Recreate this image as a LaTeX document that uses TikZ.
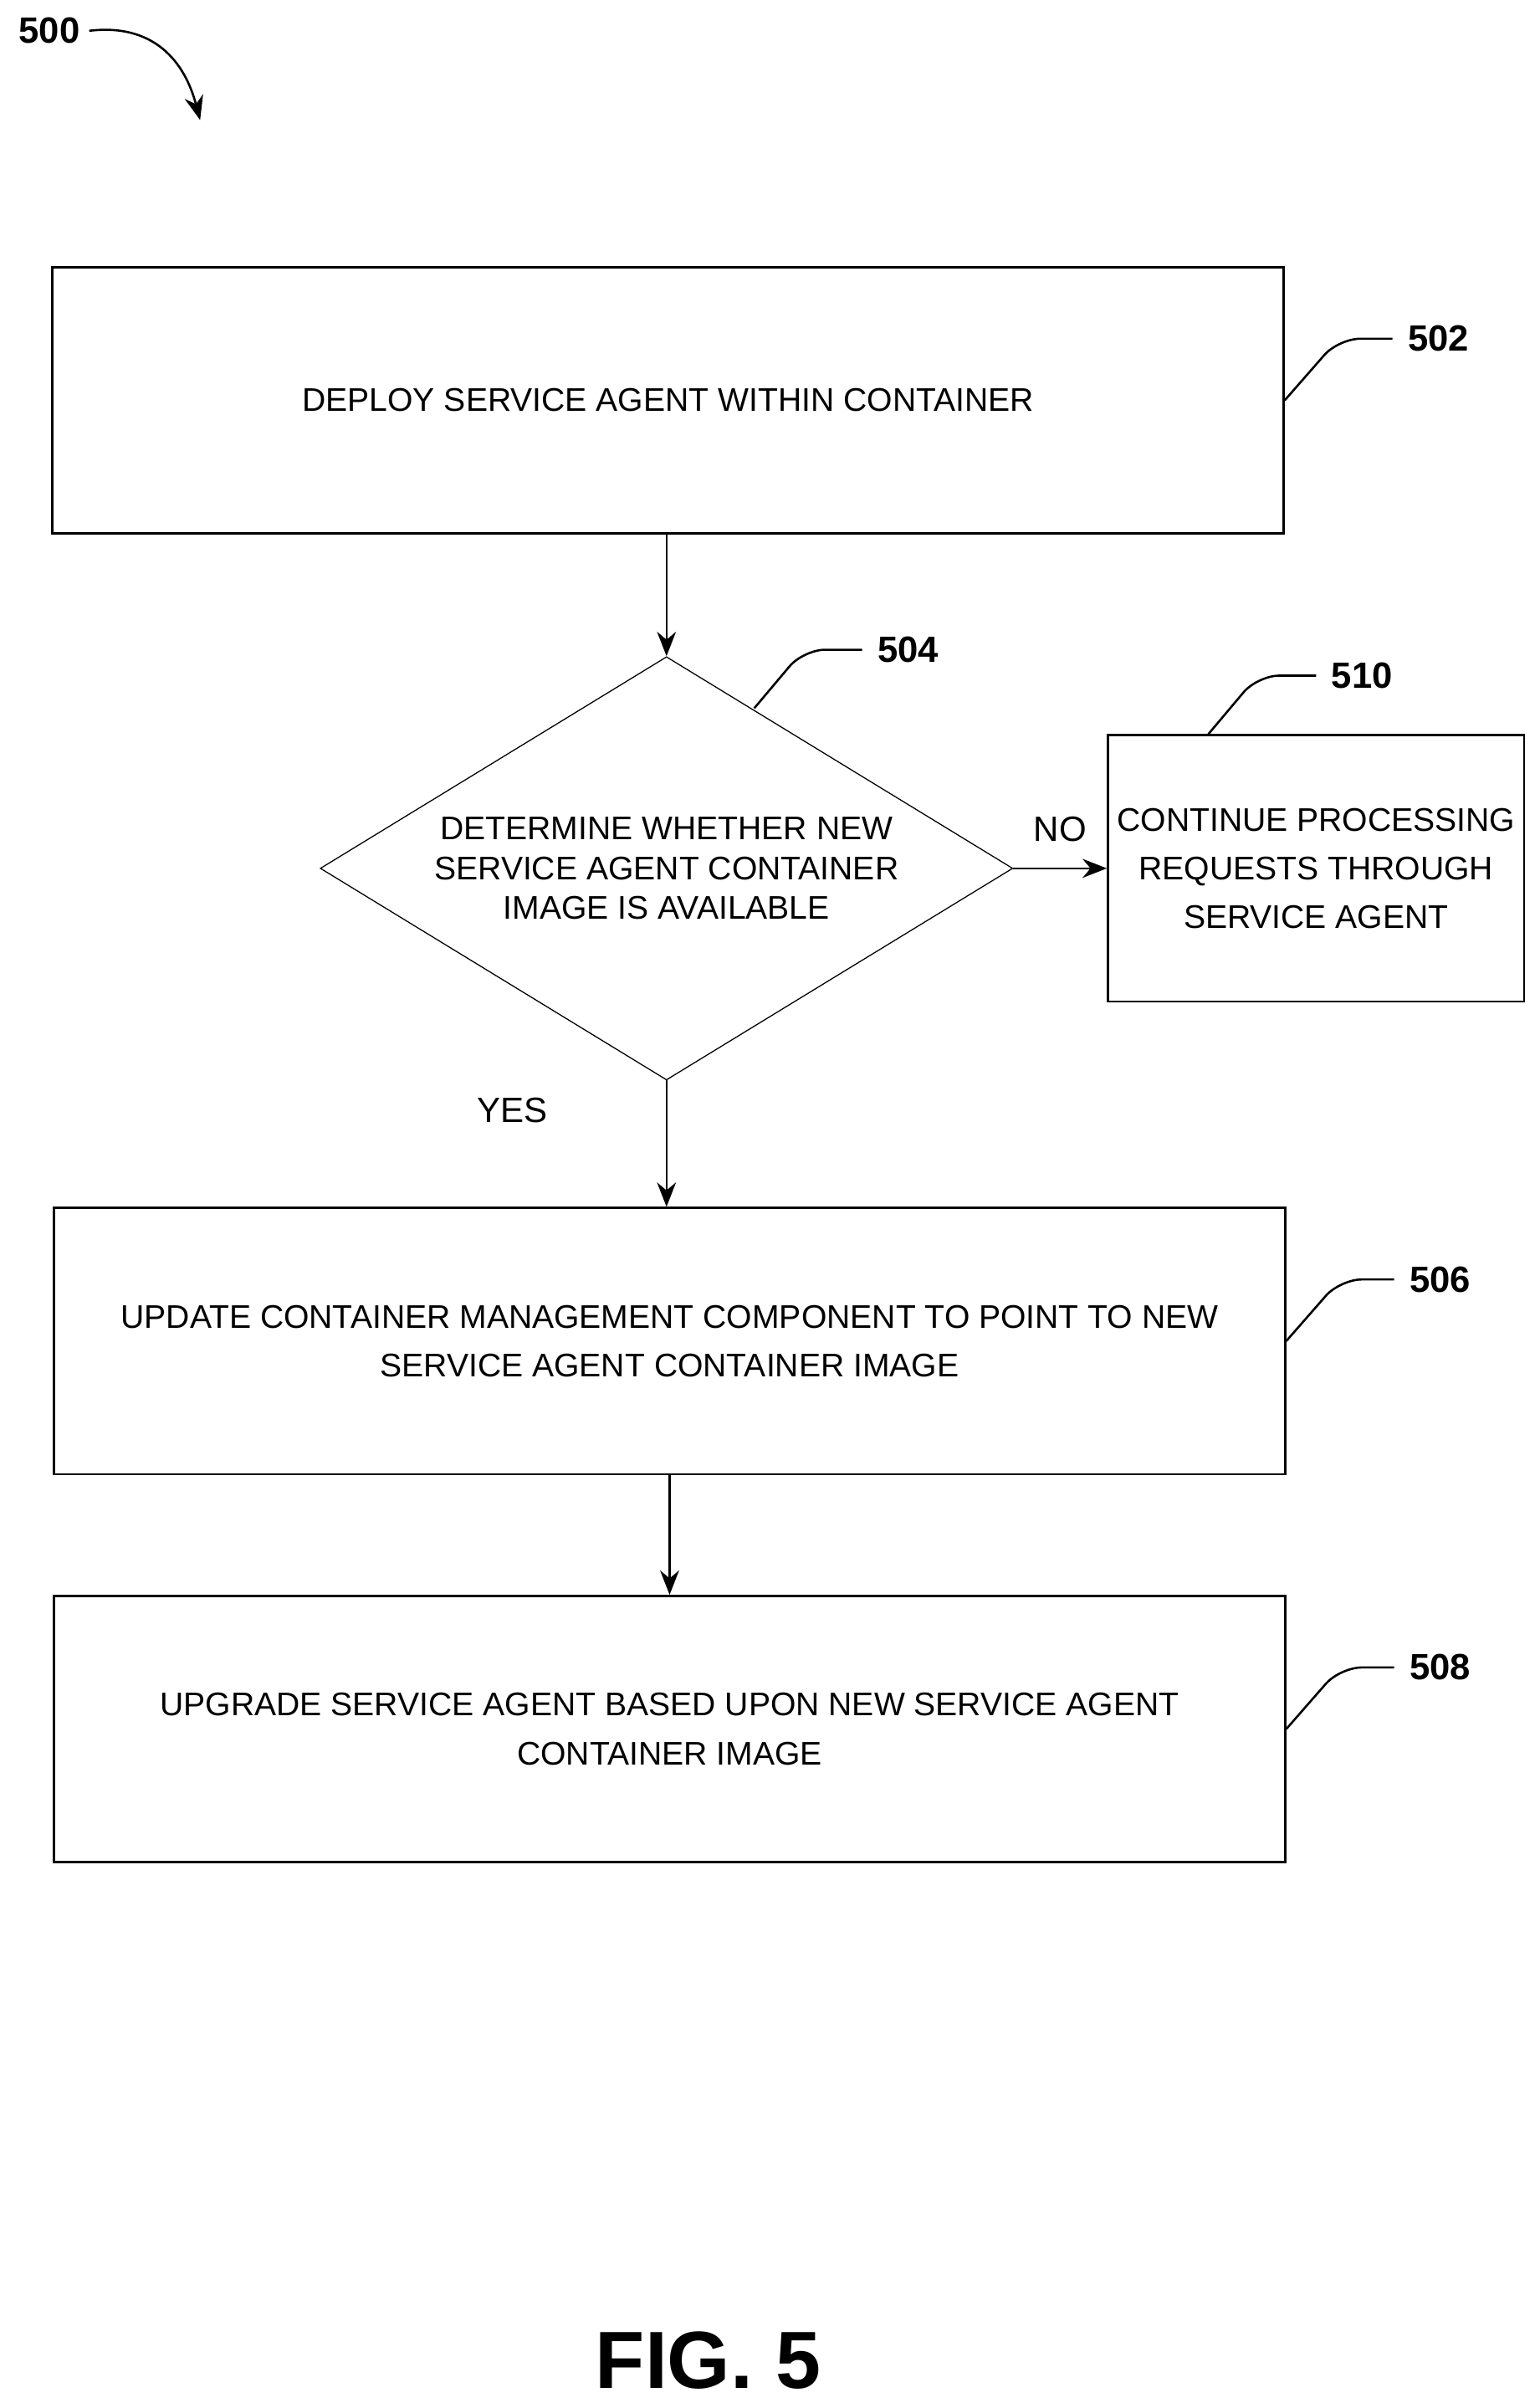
\documentclass[tikz,border=0pt]{standalone}
\usepackage{fontspec}
\setmainfont{Liberation Sans}
\usetikzlibrary{shapes.geometric,arrows.meta}

\begin{document}
\begin{tikzpicture}[x=0.02cm, y=-0.02cm,
    stepbox/.style={rectangle, draw, thick, minimum width=16cm, minimum height=3.46cm, align=center, font=\fontsize{12.1}{18}\selectfont},
    flow/.style={-{Stealth[length=9pt,width=7pt]}, thick},
    refnum/.style={font=\fontsize{13.5}{16}\selectfont\bfseries},
    leader/.style={thick, rounded corners=8pt}]
    \useasboundingbox (0,0) rectangle (1000,1564);

    \node at (434, 260) [stepbox] (b502) {DEPLOY SERVICE AGENT WITHIN CONTAINER};
    \node at (433, 564) [diamond, draw, thin, inner sep=0pt, aspect=1.64, minimum width=9cm, minimum height=5.5cm,
        align=center, font=\fontsize{12.1}{14.7}\selectfont] (d504)
        {DETERMINE WHETHER NEW\\SERVICE AGENT CONTAINER\\IMAGE IS AVAILABLE};
    \node at (855, 564) [stepbox, minimum width=5.4cm] (b510)
        {CONTINUE PROCESSING\\REQUESTS THROUGH\\SERVICE AGENT};
    \node at (435, 871) [stepbox] (b506)
        {UPDATE CONTAINER MANAGEMENT COMPONENT TO POINT TO NEW\\SERVICE AGENT CONTAINER IMAGE};
    \node at (435, 1123) [stepbox] (b508)
        {UPGRADE SERVICE AGENT BASED UPON NEW SERVICE AGENT\\CONTAINER IMAGE};

    %flow between steps
    \draw [flow] (b502.south -| d504.north) -- (d504.north);
    \draw [flow] (d504.east) -- (b510.west) node[midway, above=6pt, font=\fontsize{13}{16}\selectfont] {NO};
    \draw [flow] (d504.south) -- (b506.north -| d504.south);
    \node at (333, 721) [font=\fontsize{13}{16}\selectfont] (yes) {YES};
    \draw [flow] (b506.south) -- (b508.north);

    %reference numerals
    \node at (32, 20) [refnum] (n500) {500};
    \coordinate (a500) at (130, 78);
    \draw [flow] (n500.east) .. controls (100, 15) and (120, 40) .. (a500);
    \draw [leader] (b502.east) -- ++(35, -40) -- ++(35, 0) node[refnum, right=2pt] (n502) {502};
    \draw [leader] (490, 460) -- ++(32, -38) -- ++(38, 0) node[refnum, right=2pt] (n504) {504};
    \draw [leader] (b510.north -| 785, 0) -- ++(32, -38) -- ++(38, 0) node[refnum, right=2pt] (n510) {510};
    \draw [leader] (b506.east) -- ++(35, -40) -- ++(35, 0) node[refnum, right=2pt] (n506) {506};
    \draw [leader] (b508.east) -- ++(35, -40) -- ++(35, 0) node[refnum, right=2pt] (n508) {508};

    \node at (460, 1533) [font=\fontsize{30}{34}\selectfont\bfseries] (fig) {FIG. 5};
\end{tikzpicture}
\end{document}
